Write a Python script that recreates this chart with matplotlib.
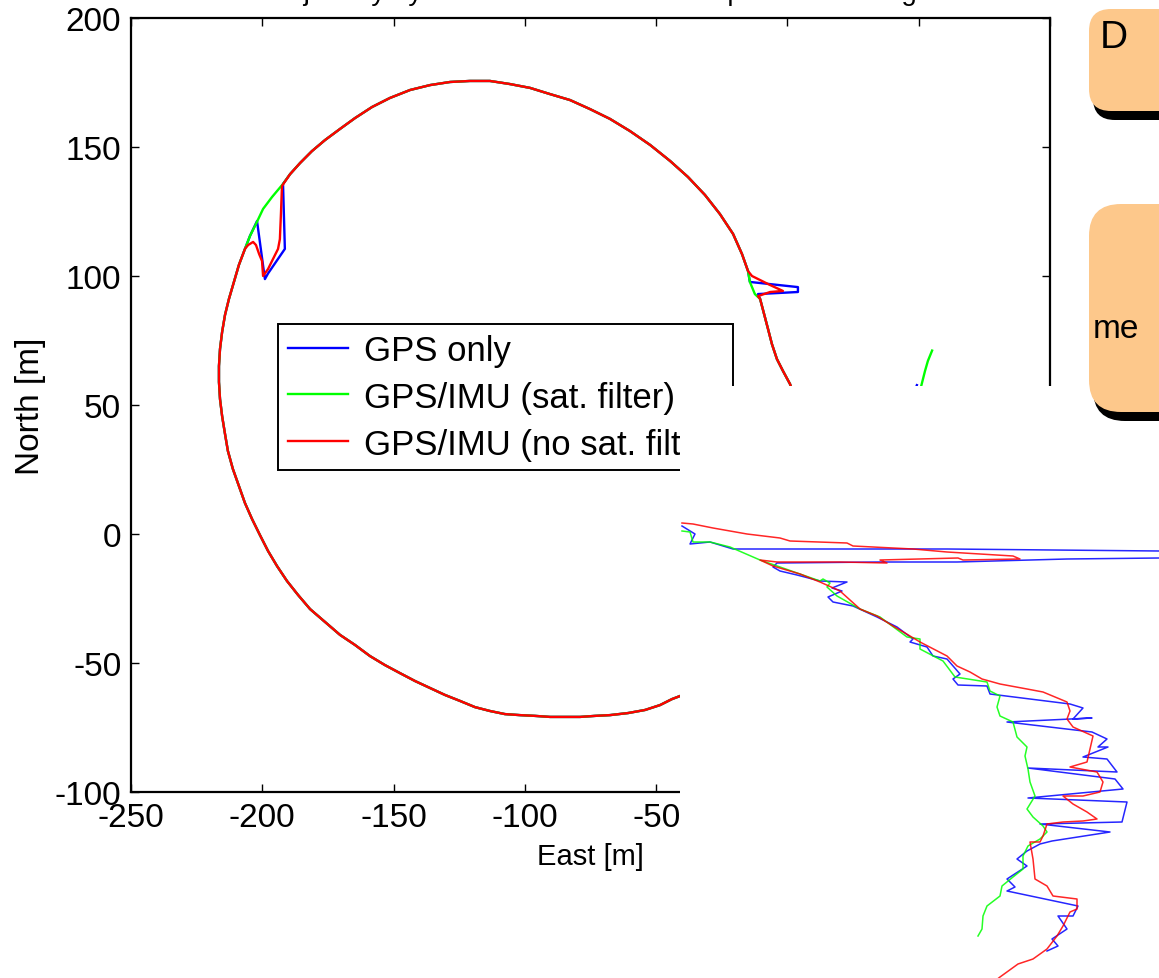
import matplotlib.pyplot as plt
from matplotlib.patches import FancyBboxPatch

plt.rcParams['font.family'] = ['Liberation Sans', 'DejaVu Sans']
plt.rcParams['axes.unicode_minus'] = False

# ---- main loop, east / north in metres ----
# shared section: bottom arc and left side
low_e = [-40.9, -44.0, -48.5, -54.2, -60.7, -67.6, -73.3, -79.0, -84.7, -90.4, -96.1,
         -101.9, -107.6, -113.3, -119.0, -124.7, -130.4, -136.1, -141.8, -147.6, -153.3,
         -159.0, -164.7, -170.4, -176.1, -181.8, -186.4, -190.6, -194.4, -197.8, -200.9,
         -203.9, -206.6, -208.9, -211.2, -213.1, -214.2, -215.3, -216.1, -216.5, -216.5,
         -216.1, -215.3, -214.2, -212.7, -210.8, -208.9, -206.6]
low_n = [-62.8, -64.0, -66.3, -68.2, -69.4, -70.2, -70.5, -70.9, -70.9, -70.9, -70.5,
         -70.2, -69.8, -68.6, -67.1, -64.7, -62.4, -59.7, -57.0, -53.9, -50.8,
         -47.3, -43.0, -39.1, -34.1, -29.1, -23.6, -18.2, -12.4, -6.6, -0.4,
         5.8, 12.0, 18.6, 25.2, 32.2, 38.8, 45.7, 52.3, 58.9, 65.1,
         71.7, 78.3, 84.9, 91.1, 97.7, 104.3, 110.5]

# first outage (north-west)
gps_gap1_e = [-204.7, -202.0, -199.0, -197.8, -191.4, -192.1]
gps_gap1_n = [115.5, 121.3, 98.8, 101.0, 110.5, 135.7]
sat_gap1_e = [-204.7, -202.4, -199.7, -196.3, -192.1]
sat_gap1_n = [115.5, 120.2, 126.0, 130.6, 135.7]
nos_gap1_e = [-205.4, -203.5, -202.4, -201.2, -200.1, -199.7, -197.8, -196.3, -194.0,
              -193.3, -192.9, -192.5]
nos_gap1_n = [112.0, 113.2, 112.0, 108.5, 105.8, 100.0, 102.7, 105.8, 110.5,
              114.3, 124.0, 134.9]

# shared section: top arc
top_e = [-189.4, -185.6, -181.1, -176.1, -170.4, -164.7, -158.2, -151.4, -143.7, -136.1,
         -128.5, -120.9, -113.3, -105.7, -98.0, -90.4, -82.8, -75.2, -67.6, -60.0,
         -52.3, -44.7, -37.9, -31.4, -25.7, -20.7, -17.3, -15.0]
top_n = [139.5, 143.8, 148.4, 152.7, 157.0, 161.2, 165.5, 169.0, 172.1, 174.0,
         175.2, 175.6, 175.6, 174.4, 172.9, 170.5, 168.2, 164.7, 160.9, 156.2,
         150.8, 144.6, 138.4, 131.4, 124.0, 116.3, 108.5, 101.9]

# second outage (east)
gps_gap2_e = [-14.3, 4.0, 4.0, -11.2]
gps_gap2_n = [97.7, 95.7, 93.8, 93.0]
sat_gap2_e = [-14.3, -12.4]
sat_gap2_n = [97.7, 93.0]
nos_gap2_e = [-13.5, -6.6, -1.7, -6.6, -11.2]
nos_gap2_n = [100.0, 96.5, 94.2, 93.8, 92.2]

# shared section: right side going south
right_e = [-10.4, -8.9, -7.4, -5.9, -4.0, -1.7, 1.0, 2.9]
right_n = [91.1, 85.3, 79.5, 73.6, 67.8, 63.2, 58.1, 52.3]

# short pieces further east
gps_tail_e = [47.4, 49.3]
gps_tail_n = [52.3, 57.7]
sat_tail_e = [49.7, 52.4, 53.5, 55.1]
sat_tail_n = [52.3, 63.2, 67.1, 71.1]

# ---- detail of the drift, east / north in metres ----
zoom_gps_e = [20.2, 21.5, 21.0, 23.0, 25.3, 46.7, 67.9, 68.5, 68.5, 67.9, 58.7, 47.7, 40.0,
              29.7, 29.3, 30.0, 31.7, 34.0, 36.7, 35.2, 36.2, 34.8, 35.3, 37.3, 39.7, 41.7,
              43.3, 43.0, 44.7, 45.3, 46.7, 48.0, 47.3, 47.8, 50.7, 51.0, 59.0, 60.3, 59.3,
              61.2, 52.7, 61.2, 62.7, 61.8, 62.8, 60.3, 62.7, 63.7, 54.8, 63.5, 64.3, 54.8,
              64.7, 64.2, 56.0, 63.0, 57.2, 56.0, 54.7, 53.7, 54.7, 52.7, 53.5, 52.7, 59.8,
              59.3, 57.8, 58.7, 57.2, 57.8, 56.7]
zoom_gps_n = [46.0, 45.2, 44.2, 44.4, 43.7, 43.7, 43.5, 43.4, 42.8, 42.8, 42.7, 42.4, 42.4,
              42.3, 41.9, 41.5, 41.1, 40.5, 40.4, 39.8, 39.5, 38.9, 38.4, 38.0, 36.9, 35.9,
              34.7, 34.4, 33.9, 33.0, 32.7, 31.2, 30.7, 30.1, 30.0, 29.2, 28.2, 27.8, 26.7,
              26.8, 26.4, 25.4, 24.7, 23.9, 23.9, 22.9, 22.7, 21.4, 21.8, 20.7, 19.7, 18.8,
              18.4, 16.4, 16.2, 15.4, 14.5, 14.2, 13.5, 12.7, 12.0, 10.7, 9.9, 9.5, 8.0,
              7.0, 7.0, 5.7, 4.7, 4.0, 3.5]
zoom_sat_e = [20.2, 21.0, 21.3, 23.0, 25.0, 28.0, 30.0, 34.0, 34.3, 35.0, 34.7, 35.7, 38.0,
              40.0, 42.7, 44.0, 44.0, 46.3, 47.5, 50.7, 51.0, 52.0, 51.7, 52.0, 53.3, 53.7,
              54.7, 54.5, 54.8, 55.0, 55.5, 54.7, 55.3, 56.3, 56.7, 56.0, 54.8, 54.3, 54.3,
              53.3, 52.2, 52.0, 50.7, 50.3, 50.2, 49.8]
zoom_sat_n = [45.5, 45.4, 44.4, 44.4, 43.9, 42.6, 41.9, 40.5, 40.7, 40.3, 39.9, 39.0, 37.7,
              36.9, 34.9, 34.7, 33.7, 32.5, 30.9, 30.4, 29.5, 29.0, 27.9, 27.0, 26.4, 24.9,
              23.9, 23.0, 21.7, 20.4, 19.0, 17.7, 16.9, 16.0, 15.4, 14.7, 14.0, 13.0, 11.7,
              10.9, 10.0, 9.0, 8.0, 7.0, 5.7, 5.0]
zoom_nos_e = [20.2, 21.3, 23.3, 26.7, 30.0, 31.0, 36.7, 37.3, 43.3, 46.7, 53.3, 54.0, 48.3,
              47.8, 40.0, 40.7, 36.0, 29.7, 28.0, 29.3, 32.0, 34.0, 36.0, 38.0, 39.7, 41.3,
              43.0, 44.0, 46.7, 47.7, 49.0, 50.2, 52.0, 54.7, 56.3, 58.7, 59.0, 58.7, 59.3,
              61.3, 61.0, 60.7, 59.0, 61.7, 62.3, 62.0, 60.3, 58.3, 59.3, 60.7, 61.7, 60.3,
              58.3, 56.7, 56.3, 56.0, 55.0, 55.3, 55.5, 56.7, 57.3, 59.7, 59.7, 59.0, 58.3,
              57.7, 56.7, 55.3, 53.8, 52.0, 51.5]
zoom_nos_n = [46.3, 46.2, 45.8, 45.2, 44.8, 44.5, 44.3, 44.0, 43.7, 43.4, 43.0, 42.7, 42.6,
              42.8, 42.6, 42.3, 42.4, 42.4, 42.6, 42.0, 41.2, 40.4, 39.5, 37.7, 37.0, 36.0,
              35.0, 34.4, 33.0, 32.0, 31.4, 30.7, 30.2, 29.7, 29.4, 28.4, 27.5, 26.7, 25.9,
              25.0, 23.7, 22.4, 21.9, 21.4, 20.4, 19.4, 19.0, 19.0, 18.2, 17.4, 16.7, 16.5,
              16.4, 16.2, 15.0, 14.4, 14.4, 12.7, 10.7, 10.0, 9.0, 8.7, 7.7, 7.4, 6.0,
              5.0, 3.7, 2.7, 2.2, 0.9, 0.5]

labels = ['GPS only', 'GPS/IMU (sat. filter)', 'GPS/IMU (no sat. filter)']
colors = ['#0000ff', '#00ff00', '#ff0000']

gps_e = low_e + gps_gap1_e + top_e + gps_gap2_e + right_e
gps_n = low_n + gps_gap1_n + top_n + gps_gap2_n + right_n
sat_e = low_e + sat_gap1_e + top_e + sat_gap2_e + right_e
sat_n = low_n + sat_gap1_n + top_n + sat_gap2_n + right_n
nos_e = low_e + nos_gap1_e + top_e + nos_gap2_e + right_e
nos_n = low_n + nos_gap1_n + top_n + nos_gap2_n + right_n

W, H = 1159, 979
fig = plt.figure(figsize=(W / 100, H / 100), dpi=100)
ax = fig.add_axes([131 / W, 1 - 793 / H, 919 / W, 774 / H])

h1, = ax.plot(gps_e, gps_n, color=colors[0], lw=1.7)
h2, = ax.plot(sat_e, sat_n, color=colors[1], lw=1.7)
h3, = ax.plot(nos_e, nos_n, color=colors[2], lw=1.7)
ax.plot(gps_tail_e, gps_tail_n, color=colors[0], lw=1.7)
ax.plot(sat_tail_e, sat_tail_n, color=colors[1], lw=1.7)

ax.set_xlim(-250, 100)
ax.set_ylim(-100, 200)
ax.set_xticks(range(-250, 101, 50))
ax.set_yticks(range(-100, 201, 50))
ax.tick_params(direction='in', length=6, width=1, top=True, right=True,
               labelsize=24, pad=7)
for s in ax.spines.values():
    s.set_linewidth(1.6)
ax.set_xlabel('East [m]', fontsize=21, labelpad=7)
ax.set_ylabel('North [m]', fontsize=24, labelpad=6)

leg = ax.legend([h1, h2, h3], labels, loc='upper left',
                bbox_to_anchor=(278 / W, 1 - 325 / H), bbox_transform=fig.transFigure,
                fancybox=False, edgecolor='black', framealpha=1, fontsize=25,
                handlelength=1.75, handletextpad=0.45, labelspacing=0.4,
                borderpad=0.28, borderaxespad=0)
leg.get_frame().set_linewidth(1.4)

fig.text(590 / W, 1.0, 'Trajectory by GPS and GPS/IMU compared in testing',
         ha='center', va='baseline', fontsize=20)

# enlarged view of the drift, on a white panel
zx = fig.add_axes([680 / W, 0, 479 / W, 592 / H], zorder=5)
zx.set_facecolor('white')
for s in zx.spines.values():
    s.set_visible(False)
zx.set_xticks([])
zx.set_yticks([])
zx.plot(zoom_gps_e, zoom_gps_n, color=colors[0], lw=1.1, alpha=0.85)
zx.plot(zoom_sat_e, zoom_sat_n, color=colors[1], lw=1.1, alpha=0.85)
zx.plot(zoom_nos_e, zoom_nos_n, color=colors[2], lw=1.1, alpha=0.85)
zx.set_xlim(20, 67.9)
zx.set_ylim(0.8, 60)

# rounded callout boxes on the right
ov = fig.add_axes([0, 0, 1, 1], zorder=10)
ov.set_xlim(0, W)
ov.set_ylim(H, 0)
ov.set_axis_off()
orange = '#fdc88b'
for (x, y, w, h, r) in [(1089, 10, 200, 102, 22), (1089, 205, 200, 208, 32)]:
    ov.add_patch(FancyBboxPatch((x + 4, y + 9), w, h,
                                boxstyle=f'round,pad=0,rounding_size={r}',
                                fc='black', ec='none'))
    ov.add_patch(FancyBboxPatch((x, y), w, h,
                                boxstyle=f'round,pad=0,rounding_size={r}',
                                fc=orange, ec='none'))
ov.text(1100, 38, 'D', fontsize=28, va='center', ha='left')
ov.text(1093, 330, 'me', fontsize=24, va='center', ha='left')

fig.savefig('out.png', dpi=100)
